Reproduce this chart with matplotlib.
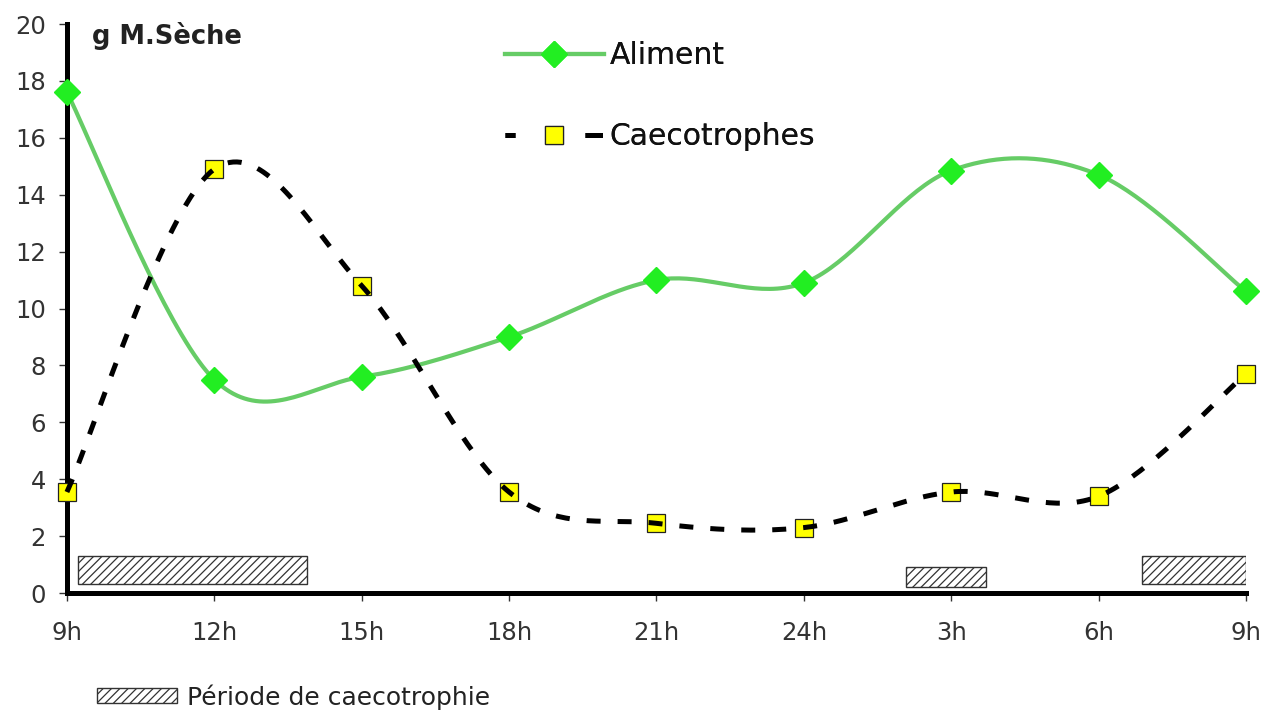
import numpy as np
import matplotlib
matplotlib.use("Agg")
import matplotlib.pyplot as plt
from matplotlib.patches import Rectangle
from matplotlib.lines import Line2D

plt.rcParams['font.family'] = ['DejaVu Sans']
plt.rcParams['hatch.linewidth'] = 0.9

# Hours elapsed since 9h, one sample every 3 hours
hours = [0, 3, 6, 9, 12, 15, 18, 21, 24]
tick_labels = ['9h', '12h', '15h', '18h', '21h', '24h', '3h', '6h', '9h']

# Dry matter (g) in the stomach contents
aliment = [17.6, 7.5, 7.6, 9.0, 11.0, 10.9, 14.85, 14.7, 10.6]
caecotrophes = [3.55, 14.9, 10.8, 3.55, 2.45, 2.3, 3.55, 3.4, 7.7]

# Caecotrophy periods: (start hour, end hour, bottom, top)
periods_start = [0.22, 17.08, 21.88]
periods_end = [4.89, 18.71, 24.0]
periods_bottom = [0.3, 0.2, 0.3]
periods_top = [1.3, 0.9, 1.3]


def smooth(xs, ys, n=40):
    """Catmull-Rom style Bezier smoothing through every point."""
    x = np.asarray(xs, float)
    y = np.asarray(ys, float)
    px = np.concatenate([[x[0]], x, [x[-1]]])
    py = np.concatenate([[y[0]], y, [y[-1]]])
    out_x, out_y = [], []
    t = np.linspace(0, 1, n)
    for i in range(1, len(px) - 2):
        p0 = np.array([px[i - 1], py[i - 1]])
        p1 = np.array([px[i], py[i]])
        p2 = np.array([px[i + 1], py[i + 1]])
        p3 = np.array([px[i + 2], py[i + 2]])
        c1 = p1 + (p2 - p0) / 6.0
        c2 = p2 - (p3 - p1) / 6.0
        b = ((1 - t) ** 3)[:, None] * p1 + (3 * (1 - t) ** 2 * t)[:, None] * c1 \
            + (3 * (1 - t) * t ** 2)[:, None] * c2 + (t ** 3)[:, None] * p2
        if i > 1:
            b = b[1:]
        out_x.extend(b[:, 0])
        out_y.extend(b[:, 1])
    return np.array(out_x), np.array(out_y)


fig = plt.figure(figsize=(12.63, 7.17), dpi=100)
ax = fig.add_axes([0.053, 0.1729, 0.9335, 0.7936])

green_line = '#66cc66'
green_mark = '#22ee22'

# Caecotrophy period boxes
for s, e, b, t in zip(periods_start, periods_end, periods_bottom, periods_top):
    ax.add_patch(Rectangle((s, b), e - s, t - b, facecolor='white',
                           edgecolor='#333333', hatch='////', linewidth=1.0,
                           zorder=2))

# Food curve
sx, sy = smooth(hours, aliment)
ax.plot(sx, sy, color=green_line, linewidth=3.0, zorder=3, clip_on=False,
        solid_capstyle='round')
ax.plot(hours, aliment, linestyle='none', marker='D', markersize=13,
        markerfacecolor=green_mark, markeredgecolor=green_mark, zorder=4,
        clip_on=False)

# Caecotrophe curve (dashes drawn over the markers)
cx, cy = smooth(hours, caecotrophes)
ax.plot(hours, caecotrophes, linestyle='none', marker='s', markersize=13.5,
        markerfacecolor='#ffff00', markeredgecolor='#222222',
        markeredgewidth=0.9, zorder=4, clip_on=False)
ax.plot(cx, cy, color='black', linewidth=3.6, dashes=(2.8, 3.4), zorder=5,
        clip_on=False, dash_capstyle='butt')

ax.set_xlim(0, 24)
ax.set_ylim(0, 20)
ax.set_xticks(hours)
ax.set_xticklabels(tick_labels)
ax.set_yticks(range(0, 21, 2))

for side in ('top', 'right'):
    ax.spines[side].set_visible(False)
for side in ('left', 'bottom'):
    ax.spines[side].set_linewidth(3.6)
    ax.spines[side].set_color('black')

ax.tick_params(axis='both', direction='out', length=6, width=1.0,
               colors='#333333', labelsize=17.5, labelcolor='#333333')
ax.tick_params(axis='x', pad=14)
ax.tick_params(axis='y', pad=9)

fig.text(0.0728, 0.95, 'g M.Sèche', fontsize=18.5, fontweight='bold',
         color='#222222', va='center', ha='left')

# Series legend
h_alim = Line2D([], [], color=green_line, linewidth=3.0, marker='D',
                markersize=13, markerfacecolor=green_mark,
                markeredgecolor=green_mark)
h_caeco = Line2D([], [], color='black', linewidth=3.6, marker='s',
                 markersize=13, markerfacecolor='#ffff00',
                 markeredgecolor='#222222', markeredgewidth=0.9,
                 dashes=(2.0, 14.0, 3.5, 20.0))
leg = ax.legend([h_alim, h_caeco], ['Aliment', 'Caecotrophes'],
                loc='upper left', bbox_to_anchor=(505 / 1263, 1 - 41 / 717),
                bbox_transform=fig.transFigure, frameon=False, fontsize=21.5,
                borderpad=0, borderaxespad=0, handlelength=3.3,
                handletextpad=0.2, labelspacing=1.75)
for txt in leg.get_texts():
    txt.set_color('#111111')
ax.add_artist(leg)

# Period legend at the bottom
h_period = Rectangle((0, 0), 1, 1, facecolor='white', edgecolor='#333333',
                     hatch='////', linewidth=1.0)
fig.legend([h_period], ['Période de caecotrophie'], loc='center left',
           bbox_to_anchor=(97 / 1263, 1 - 697 / 717), frameon=False,
           fontsize=18, borderpad=0, borderaxespad=0, handlelength=3.2,
           handleheight=0.55, handletextpad=0.4, labelcolor='#222222')

fig.savefig('out.png', dpi=100)
